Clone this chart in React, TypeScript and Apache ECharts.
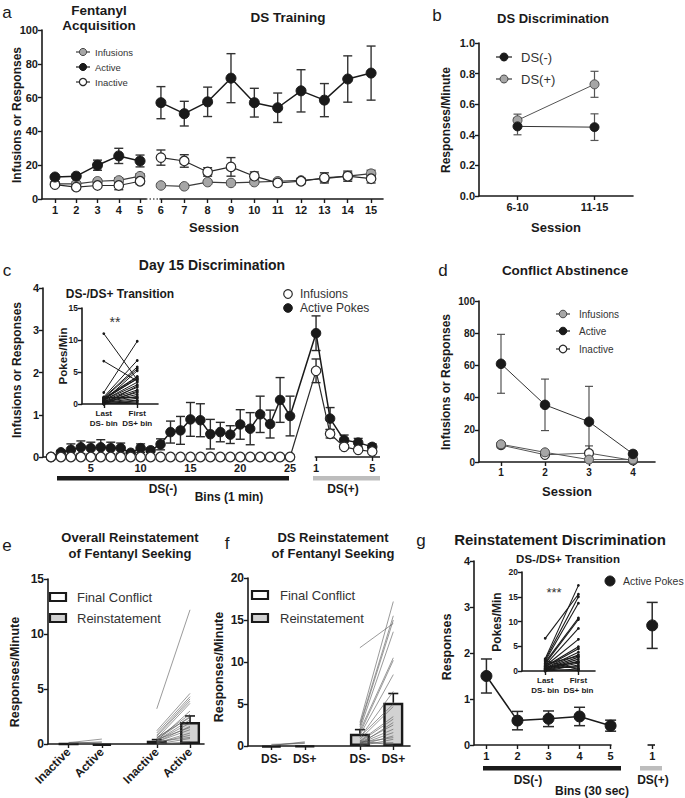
import React, { useEffect, useRef } from "react";
import * as echarts from "echarts";

const FONT = '"Liberation Sans", Arial, Helvetica, sans-serif';
const INK = "#1a1a1a";
const GRAY_FILL = "#a6a6a6";
const GRAY_EDGE = "#4a4a4a";
const BAR_GRAY = "#d2d2d2";
const DS_PLUS_BAR = "#bdbdbd";

// ---------------- panel a ----------------
const aSessionsAcq = [1, 2, 3, 4, 5];
const aSessionsDS = [6, 7, 8, 9, 10, 11, 12, 13, 14, 15];
const aInfAcq = [9, 9, 10.5, 11, 13.5];
const aInfAcqErr = [1, 1, 1, 1.5, 1.5];
const aActAcq = [13, 13.5, 20, 25.5, 22.5];
const aActAcqErr = [1, 1, 3, 4.5, 3.5];
const aInaAcq = [8.5, 7, 8, 8, 10.5];
const aInaAcqErr = [1, 1, 1, 2.5, 1.5];
const aInfDS = [8, 7.5, 10, 9.5, 10, 10.5, 11, 12, 13.5, 15];
const aInfDSErr = [0.8, 0.8, 1, 1, 1, 1, 1.2, 1.5, 2, 2];
const aActDS = [57, 50.5, 57.5, 71.5, 57, 54, 64, 58.5, 71, 74.5];
const aActDSErr = [9.5, 7.3, 8.7, 14.5, 8.5, 8.7, 12.5, 9.8, 13.7, 16];
const aInaDS = [24.5, 22.5, 16, 19, 13.5, 9.5, 10.5, 12.5, 13.5, 12];
const aInaDSErr = [4.5, 3.7, 2.5, 5.5, 2.5, 1, 1.5, 3, 3, 2.5];

// ---------------- panel b ----------------
const bCats = ["6-10", "11-15"];
const bDSminus = [0.455, 0.45];
const bDSminusErr = [0.055, 0.087];
const bDSplus = [0.495, 0.73];
const bDSplusErr = [0.04, 0.085];

// ---------------- panel c ----------------
const cBinsDSminus = [1, 2, 3, 4, 5, 6, 7, 8, 9, 10, 11, 12, 13, 14, 15, 16, 17, 18, 19, 20, 21, 22, 23, 24, 25];
const cBinsDSplus = [1, 2, 3, 4, 5];
const cActDSminus = [0, 0.11, 0.17, 0.23, 0.21, 0.23, 0.21, 0.21, 0.1, 0.21, 0.16, 0.3, 0.59, 0.63, 0.89, 0.87, 0.54, 0.59, 0.53, 0.77, 0.67, 1.01, 0.78, 1.35, 0.97];
const cActDSminusErr = [0, 0.03, 0.14, 0.15, 0.14, 0.18, 0.14, 0.12, 0.03, 0.1, 0.05, 0.13, 0.26, 0.33, 0.4, 0.39, 0.35, 0.23, 0.21, 0.35, 0.38, 0.43, 0.33, 0.53, 0.47];
const cActDSplus = [2.93, 0.91, 0.4, 0.34, 0.24];
const cActDSplusErr = [0.41, 0.26, 0.12, 0.1, 0.07];
const cInfDSminus = [0, 0, 0, 0, 0, 0, 0, 0, 0, 0, 0, 0, 0, 0, 0, 0, 0, 0, 0, 0, 0, 0, 0, 0, 0];
const cInfDSplus = [2.04, 0.55, 0.24, 0.17, 0.13];
const cInfDSplusErr = [0.28, 0.1, 0.05, 0.03, 0.03];
// inset: per-subject last DS- bin vs first DS+ bin
const cLastDSminus = [11.0, 6.7, 1.8, 1.1, 1.0, 0.9, 0.9, 0.8, 0.7, 0.6, 0.6, 0.5, 0.4, 0.4, 0.3, 0.3, 0.2, 0.2, 0.1, 0.1, 0.0, 0.0, 0.0, 0.5, 0.8, 1.0];
const cFirstDSplus = [3.8, 3.6, 9.8, 6.8, 5.8, 5.5, 4.3, 4.2, 4.0, 3.4, 3.0, 2.6, 2.2, 1.8, 1.5, 1.2, 0.9, 0.6, 0.3, 0.1, 2.8, 2.0, 0.5, 5.2, 3.9, 1.0];

// ---------------- panel d ----------------
const dSessions = [1, 2, 3, 4];
const dInf = [11, 6, 1.5, 1.5];
const dInfErr = [1.5, 1, 0.5, 0.5];
const dAct = [61, 35.5, 25, 5];
const dActErr = [18.3, 16, 22, 2];
const dIna = [10.5, 4.5, 5.5, 1];
const dInaErr = [1, 1, 4.5, 0.5];

// ---------------- panel e ----------------
const eCats = ["Inactive", "Active", "Inactive", "Active"];
const eBars = [0, -0.15, 0.3, 2.0];
const eBarErr = [0, 0, 0.1, 0.55];
const eConflictInactive = [0.12, 0.05, 0.15];
const eConflictActive = [0.45, 0.2, 0.1];
const eReinInactive = [3.2, 1.2, 1.0, 0.8, 0.7, 0.5, 0.5, 0.4, 0.3, 0.3, 0.2, 0.2, 0.1, 0.1, 0.0, 0.0, 0.3, 0.6, 0.4, 0.2];
const eReinActive = [12.2, 4.6, 4.3, 4.1, 3.9, 3.7, 2.7, 2.5, 2.2, 1.9, 1.6, 1.3, 1.0, 0.8, 0.5, 0.2, 3.0, 2.4, 1.5, 0.6];

// ---------------- panel f ----------------
const fCats = ["DS-", "DS+", "DS-", "DS+"];
const fBars = [-0.15, -0.1, 1.45, 5.15];
const fBarErr = [0, 0, 0.5, 1.1];
const fConflictDSminus = [0.1, 0.2, 0.05];
const fConflictDSplus = [0.4, 0.3, 0.5];
const fReinDSminus = [11.7, 2.8, 2.5, 2.3, 2.0, 1.8, 1.5, 1.3, 1.0, 0.8, 0.6, 0.5, 0.4, 0.3, 0.2, 0.1, 0.0, 0.3, 0.6, 1.1, 0.2, 0.4];
const fReinDSplus = [14.6, 17.2, 15.5, 15.0, 13.6, 10.5, 10.2, 8.5, 6.5, 4.7, 3.5, 3.2, 2.5, 2.0, 1.6, 1.2, 0.8, 0.4, 0.1, 5.0, 2.8, 1.0];

// ---------------- panel g ----------------
const gBinsDSminus = [1, 2, 3, 4, 5];
const gActDSminus = [1.5, 0.53, 0.57, 0.62, 0.42];
const gActDSminusErr = [0.37, 0.2, 0.17, 0.2, 0.12];
const gActDSplus = [2.6];
const gActDSplusErr = [0.5];
const gLastDSminus = [6.6, 2.5, 2.3, 2.0, 1.8, 1.5, 1.2, 1.0, 0.9, 0.8, 0.6, 0.5, 0.4, 0.3, 0.2, 0.1, 0.0, 0.5, 1.0, 2.1, 0.3, 0.7, 1.4, 0.0];
const gFirstDSplus = [15.5, 17.3, 15.0, 13.7, 10.7, 10.4, 8.6, 6.4, 4.9, 4.5, 3.8, 3.3, 2.8, 2.4, 2.0, 1.6, 1.2, 0.9, 0.6, 0.3, 0.1, 1.8, 3.0, 0.4];

// ---------------- layout constants ----------------
const C_DSP_START = 27.61; // axis position of DS(+) bin 1 in panel c
const C_DSP_STEP = 1.41;
const G_DSP_POS = 6.34; // axis position of DS(+) bin 1 in panel g
const GROUP_POS = [0, 1, 2.65, 3.65];

const cDSpPos = (b: number) => C_DSP_START + (b - 1) * C_DSP_STEP;

const M_BLACK = { fill: INK, edge: INK, bw: 1, line: INK, lw: 1.5 };
const M_GRAY = { fill: GRAY_FILL, edge: GRAY_EDGE, bw: 1, line: "#3a3a3a", lw: 1.2 };
const M_OPEN = { fill: "#ffffff", edge: "#2a2a2a", bw: 1.2, line: "#2a2a2a", lw: 1.2 };

function lineS(xi: number, xs: number[], ys: number[], m: any, size: number, z = 4, lw?: number) {
  return {
    type: "line",
    xAxisIndex: xi,
    yAxisIndex: xi,
    silent: true,
    z,
    clip: false,
    showAllSymbol: true,
    data: xs.map((x, i) => [x, ys[i]]),
    symbol: "circle",
    symbolSize: size,
    itemStyle: { color: m.fill, borderColor: m.edge, borderWidth: m.bw, opacity: 1 },
    lineStyle: { color: m.line, width: lw ?? m.lw },
    emphasis: { disabled: true },
  };
}

function errS(xi: number, xs: number[], ys: number[], errs: number[], color: string, cap: number, lw: number, upOnly = false, z = 3) {
  return {
    type: "custom",
    xAxisIndex: xi,
    yAxisIndex: xi,
    silent: true,
    z,
    encode: { x: 0, y: [1, 2] },
    data: xs.map((x, i) => [x, upOnly ? ys[i] : ys[i] - errs[i], ys[i] + errs[i]]),
    renderItem: (_p: any, api: any) => {
      const x = api.value(0);
      const lo = api.value(1);
      const hi = api.value(2);
      if (hi - lo < 1e-9) return { type: "group", children: [] };
      const a = api.coord([x, hi]);
      const b = api.coord([x, lo]);
      const st = { stroke: color, lineWidth: lw };
      const children: any[] = [
        { type: "line", shape: { x1: a[0], y1: a[1], x2: b[0], y2: b[1] }, style: st },
        { type: "line", shape: { x1: a[0] - cap, y1: a[1], x2: a[0] + cap, y2: a[1] }, style: st },
      ];
      if (!upOnly) children.push({ type: "line", shape: { x1: b[0] - cap, y1: b[1], x2: b[0] + cap, y2: b[1] }, style: st });
      return { type: "group", children };
    },
  };
}

function pairS(xi: number, x0: number, x1: number, v0: number[], v1: number[], color: string, lw: number, dot: number, z = 5) {
  return {
    type: "custom",
    xAxisIndex: xi,
    yAxisIndex: xi,
    silent: true,
    z,
    encode: { x: [0, 2], y: [1, 3] },
    data: v0.map((v, i) => [x0, v, x1, v1[i]]),
    renderItem: (_p: any, api: any) => {
      const p = api.coord([api.value(0), api.value(1)]);
      const q = api.coord([api.value(2), api.value(3)]);
      const ch: any[] = [{ type: "line", shape: { x1: p[0], y1: p[1], x2: q[0], y2: q[1] }, style: { stroke: color, lineWidth: lw } }];
      if (dot > 0) {
        ch.push({ type: "circle", shape: { cx: p[0], cy: p[1], r: dot }, style: { fill: color } });
        ch.push({ type: "circle", shape: { cx: q[0], cy: q[1], r: dot }, style: { fill: color } });
      }
      return { type: "group", children: ch };
    },
  };
}

function segS(xi: number, segs: number[][]) {
  return {
    type: "custom",
    xAxisIndex: xi,
    yAxisIndex: xi,
    silent: true,
    z: 2,
    encode: { x: [0, 1], y: 2 },
    data: segs.map((s) => [s[0], s[1], 0]),
    renderItem: (_p: any, api: any) => {
      const p = api.coord([api.value(0), 0]);
      const q = api.coord([api.value(1), 0]);
      return { type: "line", shape: { x1: p[0], y1: p[1], x2: q[0], y2: q[1] }, style: { stroke: INK, lineWidth: 1.6 } };
    },
  };
}

function barS(xi: number, pos: number[], vals: number[], fills: string[]) {
  return {
    type: "bar",
    xAxisIndex: xi,
    yAxisIndex: xi,
    silent: true,
    clip: false,
    z: 2,
    barWidth: 20,
    data: pos.map((p, i) => ({
      value: [p, vals[i]],
      itemStyle: { color: fills[i], borderColor: INK, borderWidth: 2.4 },
    })),
  };
}

function xVal(gi: number, min: number, max: number, ticks: number[], fmt: (v: number) => string, fs = 11, label: any = {}, showLine = true) {
  return {
    type: "value",
    gridIndex: gi,
    min,
    max,
    axisLine: { show: showLine, onZero: false, lineStyle: { color: INK, width: 1.6 } },
    axisTick: { show: true, length: 4, customValues: ticks, lineStyle: { color: INK, width: 1.4 } },
    axisLabel: { customValues: ticks, formatter: fmt, fontSize: fs, fontWeight: "bold", color: INK, fontFamily: FONT, margin: 5, ...label },
    splitLine: { show: false },
  };
}

function yVal(gi: number, min: number, max: number, interval: number, fs = 11, fmt?: (v: number) => string, show = true) {
  return {
    type: "value",
    gridIndex: gi,
    min,
    max,
    interval,
    show,
    axisLine: { show: true, onZero: false, lineStyle: { color: INK, width: 1.6 } },
    axisTick: { show: true, length: 4, lineStyle: { color: INK, width: 1.4 } },
    axisLabel: { fontSize: fs, fontWeight: "bold", color: INK, fontFamily: FONT, margin: 4, ...(fmt ? { formatter: fmt } : {}) },
    splitLine: { show: false },
  };
}

function txt(text: string, x: number, y: number, fs: number, o: any = {}) {
  return {
    type: "text",
    x,
    y,
    silent: true,
    rotation: o.rot || 0,
    z: 10,
    style: {
      text,
      fontSize: fs,
      fontFamily: FONT,
      fontWeight: o.bold ? "bold" : "normal",
      fill: o.color || INK,
      align: o.align || "center",
      verticalAlign: "middle",
      textAlign: o.align || "center",
      textVerticalAlign: "middle",
    },
  };
}

function legMarker(x: number, y: number, m: any, r: number, half: number) {
  const els: any[] = [];
  if (half > 0) els.push({ type: "line", silent: true, z: 10, shape: { x1: x - half, y1: y, x2: x + half, y2: y }, style: { stroke: m.line, lineWidth: 1.2 } });
  els.push({ type: "circle", silent: true, z: 11, shape: { cx: x, cy: y, r }, style: { fill: m.fill, stroke: m.edge, lineWidth: m.bw } });
  return els;
}

function legBox(x: number, y: number, fill: string) {
  return { type: "rect", silent: true, z: 10, shape: { x, y: y - 4, width: 16, height: 8 }, style: { fill, stroke: INK, lineWidth: 2.2 } };
}

function buildOption() {
  const grids = [
    { left: 42, top: 30, width: 104, height: 169 }, // 0 a1
    { left: 160, top: 30, width: 223, height: 169 }, // 1 a2
    { left: 479, top: 43, width: 154, height: 153 }, // 2 b
    { left: 43, top: 288, width: 337, height: 169 }, // 3 c
    { left: 82, top: 308, width: 76, height: 96 }, // 4 c inset
    { left: 479, top: 301, width: 176, height: 161 }, // 5 d
    { left: 48, top: 579, width: 156, height: 165 }, // 6 e
    { left: 248, top: 578, width: 162, height: 168 }, // 7 f
    { left: 474, top: 561, width: 181, height: 184 }, // 8 g
    { left: 522, top: 572, width: 73, height: 99 }, // 9 g inset
  ].map((g) => ({ ...g, containLabel: false }));

  const str = (v: number) => String(v);
  const near = (arr: number[], v: number) => arr.findIndex((p) => Math.abs(p - v) < 0.01);
  const cTicks = [5, 10, 15, 20, 25, cDSpPos(1), cDSpPos(5)];
  const gTicks = [1, 2, 3, 4, 5, G_DSP_POS];
  const insetLabel = { fontSize: 8, lineHeight: 10, margin: 4 };

  const xAxis = [
    xVal(0, 0.39, 5.28, aSessionsAcq, str, 11),
    xVal(1, 5.96, 15.51, aSessionsDS, str, 11),
    xVal(2, -0.5, 1.5, [0, 1], (v) => bCats[Math.round(v)], 11),
    xVal(3, 0.2, 34.03, cTicks, (v) => (v > 26 ? String(Math.round((v - C_DSP_START) / C_DSP_STEP) + 1) : String(v)), 11, {}, false),
    xVal(4, -0.65, 1.62, [0, 1], (v) => (Math.round(v) === 0 ? "Last\nDS- bin" : "First\nDS+ bin"), 8, insetLabel),
    xVal(5, 0.5, 4.5, dSessions, str, 10),
    xVal(6, -0.62, 4.07, GROUP_POS, (v) => eCats[near(GROUP_POS, v)] || "", 12, { rotate: 45, margin: 6 }),
    xVal(7, -0.7, 4.15, GROUP_POS, (v) => fCats[near(GROUP_POS, v)] || "", 12, { margin: 7 }),
    xVal(8, 0.6, 6.43, gTicks, (v) => (v > 5.5 ? "1" : String(v)), 11, {}, false),
    xVal(9, -0.7, 1.5, [0, 1], (v) => (Math.round(v) === 0 ? "Last\nDS- bin" : "First\nDS+ bin"), 8, insetLabel),
  ];

  const yAxis = [
    yVal(0, 0, 100, 20, 11),
    yVal(1, 0, 100, 20, 11, undefined, false),
    yVal(2, 0, 1, 0.2, 11, (v) => v.toFixed(1)),
    yVal(3, 0, 4, 1, 11),
    yVal(4, 0, 15, 5, 8.5),
    yVal(5, 0, 100, 20, 10),
    yVal(6, 0, 15, 5, 12),
    yVal(7, 0, 20, 5, 12),
    yVal(8, 0, 4, 1, 11),
    yVal(9, 0, 20, 5, 8.5),
  ];

  const series: any[] = [
    // ---- a (acquisition)
    errS(0, aSessionsAcq, aInfAcq, aInfAcqErr, "#333", 4.5, 1.4),
    errS(0, aSessionsAcq, aActAcq, aActAcqErr, "#333", 4.5, 1.4),
    errS(0, aSessionsAcq, aInaAcq, aInaAcqErr, "#333", 4.5, 1.4),
    lineS(0, aSessionsAcq, aInfAcq, M_GRAY, 9.5, 4),
    lineS(0, aSessionsAcq, aInaAcq, M_OPEN, 9.5, 5),
    lineS(0, aSessionsAcq, aActAcq, M_BLACK, 10, 6),
    // ---- a (DS training)
    errS(1, aSessionsDS, aInfDS, aInfDSErr, "#333", 4.5, 1.4),
    errS(1, aSessionsDS, aActDS, aActDSErr, "#333", 4.5, 1.4),
    errS(1, aSessionsDS, aInaDS, aInaDSErr, "#333", 4.5, 1.4),
    lineS(1, aSessionsDS, aInfDS, M_GRAY, 9.5, 4),
    lineS(1, aSessionsDS, aInaDS, M_OPEN, 9.5, 5),
    lineS(1, aSessionsDS, aActDS, M_BLACK, 10, 6),
    // ---- b
    errS(2, [0, 1], bDSplus, bDSplusErr, "#555", 4, 1.2),
    errS(2, [0, 1], bDSminus, bDSminusErr, "#555", 4, 1.2),
    lineS(2, [0, 1], bDSplus, { ...M_GRAY, line: "#555" }, 9, 4, 1),
    lineS(2, [0, 1], bDSminus, { ...M_BLACK, line: "#333" }, 9, 5, 1),
    // ---- c
    segS(3, [[0.2, 25], [27.48, 34.03]]),
    errS(3, cBinsDSminus, cActDSminus, cActDSminusErr, "#2a2a2a", 4.5, 1.4),
    errS(3, cBinsDSplus.map(cDSpPos), cActDSplus, cActDSplusErr, "#2a2a2a", 4.5, 1.4),
    errS(3, cBinsDSplus.map(cDSpPos), cInfDSplus, cInfDSplusErr, "#2a2a2a", 4.5, 1.4),
    lineS(3, [...cBinsDSminus, ...cBinsDSplus.map(cDSpPos)], [...cActDSminus, ...cActDSplus], M_BLACK, 9.5, 5),
    lineS(3, [...cBinsDSminus, ...cBinsDSplus.map(cDSpPos)], [...cInfDSminus, ...cInfDSplus], M_OPEN, 9.5, 6),
    // ---- c inset
    pairS(4, 0, 1, cLastDSminus, cFirstDSplus, "#1a1a1a", 1, 1.4),
    // ---- d
    errS(5, dSessions, dAct, dActErr, "#444", 4, 1.1),
    errS(5, dSessions, dIna, dInaErr, "#444", 4, 1.1),
    errS(5, dSessions, dInf, dInfErr, "#444", 4, 1.1),
    lineS(5, dSessions, dIna, { ...M_OPEN, line: "#555" }, 9, 4, 1),
    lineS(5, dSessions, dInf, { ...M_GRAY, line: "#555" }, 9, 5, 1),
    lineS(5, dSessions, dAct, { ...M_BLACK, line: "#333" }, 9.5, 6, 1),
    // ---- e
    barS(6, GROUP_POS, eBars, ["#ffffff", "#ffffff", BAR_GRAY, BAR_GRAY]),
    errS(6, GROUP_POS, eBars, eBarErr, INK, 5, 1.6, true, 3),
    pairS(6, GROUP_POS[0], GROUP_POS[1], eConflictInactive, eConflictActive, "#555", 0.6, 0),
    pairS(6, GROUP_POS[2], GROUP_POS[3], eReinInactive, eReinActive, "#555", 0.6, 0),
    // ---- f
    barS(7, GROUP_POS, fBars, ["#ffffff", "#ffffff", BAR_GRAY, BAR_GRAY]),
    errS(7, GROUP_POS, fBars, fBarErr, INK, 5, 1.6, true, 3),
    pairS(7, GROUP_POS[0], GROUP_POS[1], fConflictDSminus, fConflictDSplus, "#555", 0.6, 0),
    pairS(7, GROUP_POS[2], GROUP_POS[3], fReinDSminus, fReinDSplus, "#555", 0.6, 0),
    // ---- g
    segS(8, [[0.6, 5.03], [6.19, 6.43]]),
    errS(8, gBinsDSminus, gActDSminus, gActDSminusErr, "#2a2a2a", 5.5, 1.5),
    errS(8, [G_DSP_POS], gActDSplus, gActDSplusErr, "#2a2a2a", 5.5, 1.5),
    lineS(8, gBinsDSminus, gActDSminus, M_BLACK, 11, 5),
    lineS(8, [G_DSP_POS], gActDSplus, M_BLACK, 11, 5),
    // ---- g inset
    pairS(9, 0, 1, gLastDSminus, gFirstDSplus, "#1a1a1a", 1.1, 1.4),
  ];

  const R = Math.PI / 2;
  const graphic: any[] = [
    // panel letters
    txt("a", 7, 12, 17), txt("b", 437, 15, 17), txt("c", 7, 270, 17), txt("d", 443, 270, 17),
    txt("e", 7, 545, 17), txt("f", 227, 543, 17), txt("g", 421, 540, 17),
    // titles
    txt("Fentanyl", 99, 10, 13.5, { bold: true }), txt("Acquisition", 99, 25, 13.5, { bold: true }),
    txt("DS Training", 288, 17, 13.5, { bold: true }),
    txt("DS Discrimination", 553, 18, 13, { bold: true }),
    txt("Day 15 Discrimination", 212, 265, 14, { bold: true }),
    txt("Conflict Abstinence", 565, 270, 13.5, { bold: true }),
    txt("Overall Reinstatement", 130, 537, 13, { bold: true }), txt("of Fentanyl Seeking", 130, 553, 13, { bold: true }),
    txt("DS Reinstatement", 333, 537, 13, { bold: true }), txt("of Fentanyl Seeking", 333, 553, 13, { bold: true }),
    txt("Reinstatement Discrimination", 560, 539, 15, { bold: true }),
    txt("DS-/DS+ Transition", 120, 294, 12, { bold: true }),
    txt("DS-/DS+ Transition", 568, 559, 11.5, { bold: true }),
    // axis titles
    txt("Infusions or Responses", 17, 115, 12, { bold: true, rot: R }),
    txt("Session", 214, 227, 13, { bold: true }),
    txt("Responses/Minute", 446, 120, 12, { bold: true, rot: R }),
    txt("Session", 556, 227, 13, { bold: true }),
    txt("Infusions or Responses", 17, 370, 12, { bold: true, rot: R }),
    txt("Pokes/Min", 63, 356, 11.5, { bold: true, rot: R }),
    txt("DS(-)", 163, 489, 12, { bold: true }),
    txt("Bins (1 min)", 229, 497, 12, { bold: true }),
    txt("DS(+)", 343, 489, 12, { bold: true }),
    txt("Infusions or Responses", 446, 382, 12, { bold: true, rot: R }),
    txt("Session", 567, 491, 13, { bold: true }),
    txt("Responses/Minute", 15, 672, 12.5, { bold: true, rot: R }),
    txt("Responses/Minute", 219, 667, 12.5, { bold: true, rot: R }),
    txt("Responses", 447, 647, 12.5, { bold: true, rot: R }),
    txt("Pokes/Min", 497, 622, 12, { bold: true, rot: R }),
    txt("DS(-)", 528, 780, 12, { bold: true }),
    txt("Bins (30 sec)", 592, 791, 12, { bold: true }),
    txt("DS(+)", 653, 780, 12, { bold: true }),
    // significance
    txt("**", 115, 322, 14, { color: "#333" }),
    txt("***", 554, 592, 13, { color: "#333" }),
    // axis break a
    { type: "line", silent: true, z: 10, shape: { x1: 146, y1: 199, x2: 160, y2: 199 }, style: { stroke: "#555", lineWidth: 1.4, lineDash: [1.5, 2] } },
    // DS bars
    { type: "rect", silent: true, z: 10, shape: { x: 57, y: 476, width: 232, height: 4.5 }, style: { fill: INK } },
    { type: "rect", silent: true, z: 10, shape: { x: 313, y: 476, width: 67, height: 4.5 }, style: { fill: DS_PLUS_BAR } },
    { type: "rect", silent: true, z: 10, shape: { x: 483, y: 766, width: 138, height: 4.5 }, style: { fill: INK } },
    { type: "rect", silent: true, z: 10, shape: { x: 640, y: 766, width: 22, height: 4.5 }, style: { fill: DS_PLUS_BAR } },
    // legends
    ...legMarker(83, 52, M_GRAY, 3.6, 7), txt("Infusions", 95, 52, 9.5, { align: "left", color: "#333" }),
    ...legMarker(83, 67, M_BLACK, 3.6, 7), txt("Active", 95, 67, 9.5, { align: "left", color: "#333" }),
    ...legMarker(83, 82, M_OPEN, 3.6, 7), txt("Inactive", 95, 82, 9.5, { align: "left", color: "#333" }),
    ...legMarker(504, 57, M_BLACK, 4, 8), txt("DS(-)", 521, 57, 13, { align: "left", color: "#333" }),
    ...legMarker(504, 79, M_GRAY, 4, 8), txt("DS(+)", 521, 79, 13, { align: "left", color: "#333" }),
    ...legMarker(288, 294, M_OPEN, 4.3, 0), txt("Infusions", 300, 294, 12, { align: "left", color: "#333" }),
    ...legMarker(288, 308, M_BLACK, 4.3, 0), txt("Active Pokes", 300, 308, 12, { align: "left", color: "#333" }),
    ...legMarker(563, 314, M_GRAY, 3.8, 7), txt("Infusions", 579, 314, 10, { align: "left", color: "#333" }),
    ...legMarker(563, 331, M_BLACK, 3.8, 7), txt("Active", 579, 331, 10, { align: "left", color: "#333" }),
    ...legMarker(563, 349, M_OPEN, 3.8, 7), txt("Inactive", 579, 349, 10, { align: "left", color: "#333" }),
    legBox(50, 597, "#ffffff"), txt("Final Conflict", 77, 597, 13, { align: "left", color: "#333" }),
    legBox(50, 618, BAR_GRAY), txt("Reinstatement", 77, 618, 13, { align: "left", color: "#333" }),
    legBox(252, 595, "#ffffff"), txt("Final Conflict", 280, 595, 13, { align: "left", color: "#333" }),
    legBox(252, 618, BAR_GRAY), txt("Reinstatement", 280, 618, 13, { align: "left", color: "#333" }),
    ...legMarker(610, 581, M_BLACK, 5, 0), txt("Active Pokes", 623, 581, 10.5, { align: "left", color: "#333" }),
  ];

  return {
    animation: false,
    backgroundColor: "#ffffff",
    textStyle: { fontFamily: FONT },
    grid: grids,
    xAxis,
    yAxis,
    series,
    graphic,
  };
}

export default function App() {
  const ref = useRef<HTMLDivElement>(null);
  useEffect(() => {
    if (!ref.current) return;
    const chart = echarts.init(ref.current, null, { renderer: "svg" });
    chart.setOption(buildOption() as any);
    return () => chart.dispose();
  }, []);
  return (
    <div
      ref={ref}
      style={{ position: "absolute", left: 0, top: 0, width: 685, height: 798, background: "#ffffff" }}
    />
  );
}
